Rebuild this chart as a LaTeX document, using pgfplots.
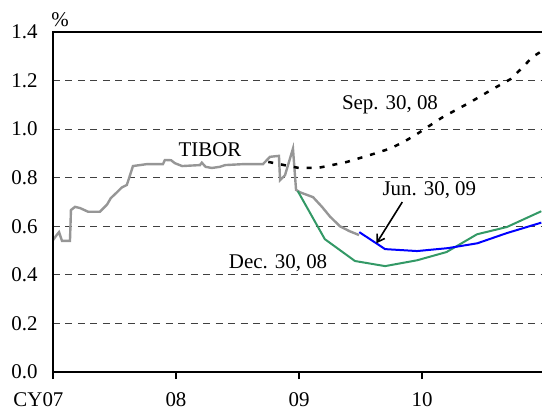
\documentclass[border=0pt]{standalone}
\usepackage{pgfplots}
\pgfplotsset{compat=1.18}
\usepackage{fontspec}
\setmainfont{Liberation Serif}
\usetikzlibrary{arrows.meta}
\definecolor{tibor}{RGB}{150,150,150}
\definecolor{grn}{RGB}{51,153,102}
\begin{document}
\begin{tikzpicture}
\begin{axis}[
  at={(0,0)}, anchor=south west,
  scale only axis, width=492bp, height=340bp,
  xmin=0, xmax=4, ymin=0, ymax=1.4,
  axis line style={draw=none},
  font=\fontsize{21}{24}\selectfont,
  /pgf/number format/assume math mode=true,
  yticklabel style={/pgf/number format/fixed,/pgf/number format/precision=1,/pgf/number format/fixed zerofill, xshift=-5bp},
  ytick style={draw=none},
  xtick={0,1,2,3},
  xticklabels={\llap{CY}07,08,09,10},
  xtick pos=bottom, tick align=outside,
  major tick length=7bp,
  xtick style={line width=1.6bp, black},
  xticklabel style={yshift=-10bp},
  ytick={0.2,0.4,...,1.2}, extra y ticks={0,1.4},
  extra y tick style={grid=none},
  ymajorgrids,
  grid style={black!75, line width=0.8bp, dash pattern=on 7bp off 5.5bp},
  clip mode=individual,
]
\addplot[tibor, line width=2.4bp] coordinates {
(0,0.543) (0.024,0.56) (0.049,0.576) (0.073,0.54) (0.138,0.54) (0.146,0.667)
(0.179,0.68) (0.22,0.675) (0.285,0.66) (0.382,0.66) (0.44,0.69) (0.47,0.716)
(0.52,0.74) (0.56,0.76) (0.60,0.77) (0.626,0.81) (0.65,0.848) (0.764,0.856)
(0.894,0.856) (0.91,0.873) (0.96,0.872) (0.99,0.86) (1.05,0.848) (1.195,0.852)
(1.21,0.862) (1.24,0.845) (1.29,0.84) (1.358,0.845) (1.40,0.852) (1.55,0.856) (1.707,0.856)
(1.764,0.886) (1.837,0.89) (1.846,0.79) (1.886,0.81) (1.951,0.92) (1.976,0.75)
(2.008,0.74) (2.114,0.72) (2.187,0.68) (2.252,0.64) (2.333,0.60) (2.41,0.58) (2.488,0.564)
};
\addplot[grn, line width=2bp] coordinates {
(1.99,0.745) (2.21,0.547) (2.455,0.457) (2.70,0.436) (2.96,0.46) (3.20,0.494)
(3.447,0.567) (3.69,0.597) (3.97,0.662)
};
\addplot[blue, line width=2bp] coordinates {
(2.49,0.576) (2.70,0.506) (2.96,0.498) (3.21,0.51) (3.45,0.53) (3.69,0.572) (3.97,0.615)
};
\addplot[black, line width=2.5bp, dash pattern=on 5bp off 8bp] coordinates {
(1.75,0.865) (2.0,0.84) (2.15,0.84) (2.25,0.85) (2.39,0.865) (2.6,0.897)
(2.74,0.92) (2.85,0.947) (2.96,0.98) (3.07,1.017) (3.17,1.05) (3.28,1.08)
(3.39,1.11) (3.50,1.143) (3.61,1.175) (3.72,1.206) (3.81,1.25) (3.90,1.298) (3.97,1.32)
};
\node[font=\fontsize{21}{24}\selectfont] at (axis cs:1.276,0.914) {TIBOR};
\node[font=\fontsize{21}{24}\selectfont] at (axis cs:2.74,1.10) {Sep. 30, 08};
\node[font=\fontsize{21}{24}\selectfont] at (axis cs:3.06,0.75) {Jun. 30, 09};
\node[font=\fontsize{21}{24}\selectfont] at (axis cs:1.83,0.449) {Dec. 30, 08};
\draw[line width=1.6bp, -{Straight Barb[length=7bp,width=9bp]}] (axis cs:2.84,0.70) -- (axis cs:2.63,0.53);
\end{axis}
\fill[black] (-1.4bp,338.6bp) rectangle (492bp,341.4bp);
\fill[black] (-1.4bp,-1.4bp) rectangle (1.4bp,341.4bp);
\fill[black] (-1.4bp,-1.4bp) rectangle (492bp,1.4bp);
\node[font=\fontsize{21}{24}\selectfont] at (7bp,352bp) {\%};
\pgfresetboundingbox
\path[use as bounding box] (-53bp,-40bp) rectangle (489bp,372bp);
\end{tikzpicture}
\end{document}
